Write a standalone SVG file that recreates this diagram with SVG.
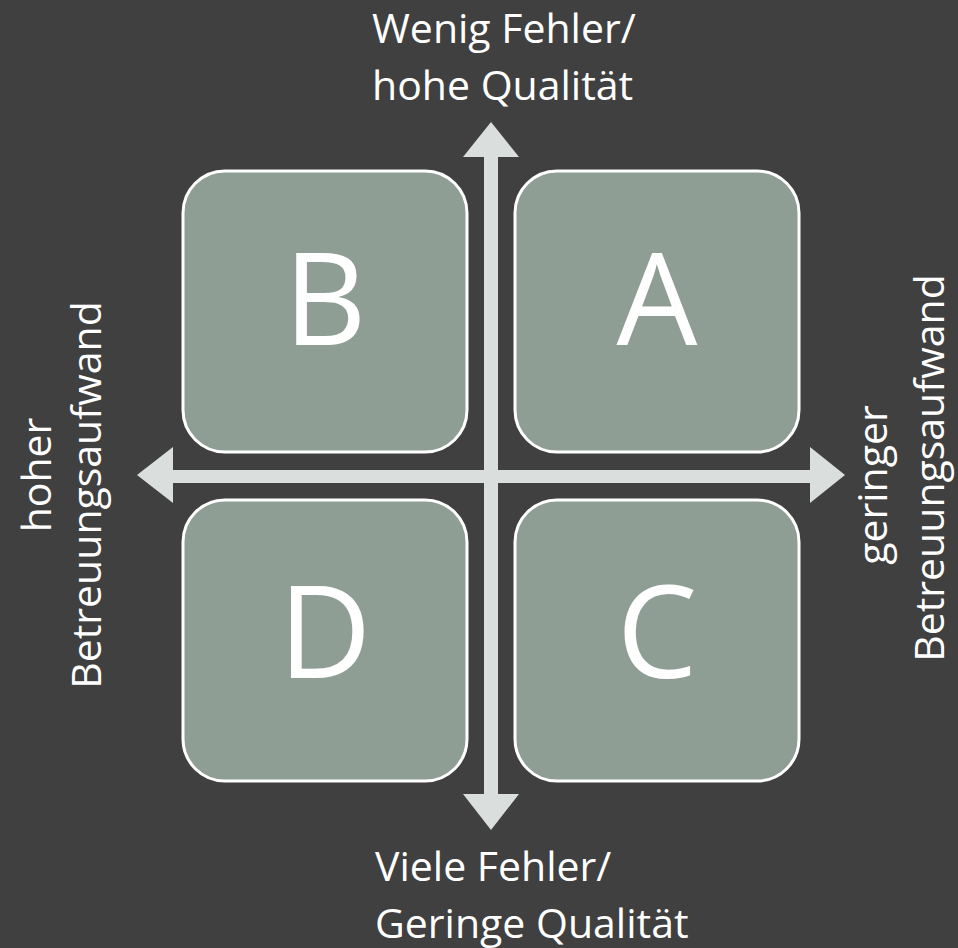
<svg xmlns="http://www.w3.org/2000/svg" width="958" height="948" viewBox="0 0 958 948">
<style>
.box{fill:#8f9e94;stroke:#ffffff;stroke-width:3}
.big{font-family:"Open Sans","Liberation Sans",sans-serif;font-size:128px;fill:#ffffff;text-anchor:middle}
.lbl{font-family:"Open Sans","Liberation Sans",sans-serif;font-size:41px;fill:#ffffff}
.ax{fill:#dadfde}
</style>
<rect width="958" height="948" fill="#404040"/>
<g id="B"><rect class="box" x="183" y="171" width="284" height="281" rx="42"/><text class="big" x="325" y="345">B</text></g>
<g id="A"><rect class="box" x="515" y="171" width="284" height="281" rx="42"/><text class="big" x="657" y="345">A</text></g>
<g id="D"><rect class="box" x="183" y="500" width="284" height="281" rx="42"/><text class="big" x="325" y="678">D</text></g>
<g id="C"><rect class="box" x="515" y="500" width="284" height="281" rx="42"/><text class="big" x="657" y="678">C</text></g>
<g id="connectors">
<rect class="ax" x="484" y="156" width="14" height="640"/>
<polygon class="ax" points="491,122 519,157 463,157"/>
<polygon class="ax" points="491,830 519,794 463,794"/>
<rect class="ax" x="171" y="470" width="640" height="13"/>
<polygon class="ax" points="137,475 173,447 173,503"/>
<polygon class="ax" points="845,475 810,447 810,503"/>
</g>
<g id="labels">
<text class="lbl" x="372" y="43">Wenig Fehler/</text>
<text class="lbl" x="372" y="100">hohe Qualität</text>
<text class="lbl" x="375" y="881">Viele Fehler/</text>
<text class="lbl" x="375" y="938">Geringe Qualität</text>
<text class="lbl" text-anchor="middle" transform="translate(51,475) rotate(-90)">hoher</text>
<text class="lbl" text-anchor="middle" transform="translate(101,495) rotate(-90)">Betreuungsaufwand</text>
<text class="lbl" text-anchor="middle" transform="translate(887,485) rotate(-90)">geringer</text>
<text class="lbl" text-anchor="middle" transform="translate(944,468) rotate(-90)">Betreuungsaufwand</text>
</g>
</svg>
